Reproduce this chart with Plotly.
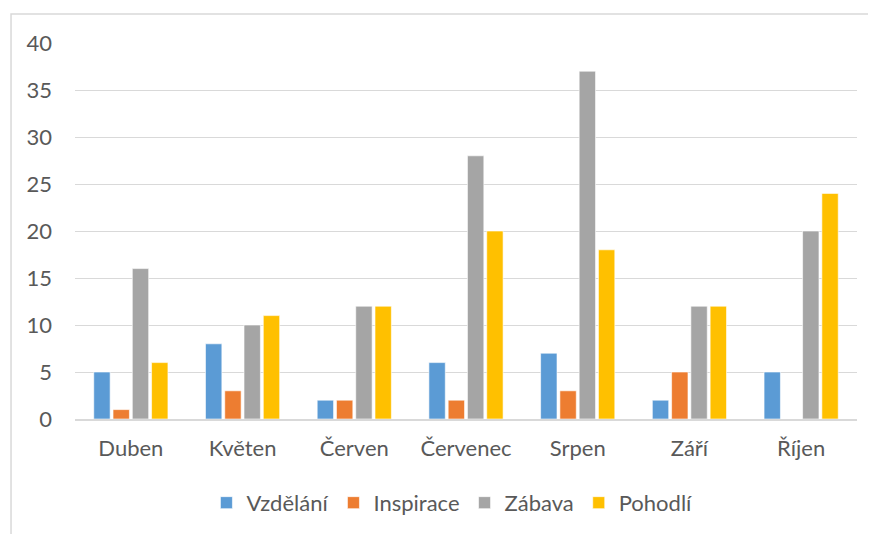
import plotly.graph_objects as go

months = ["Duben", "Květen", "Červen", "Červenec", "Srpen", "Září", "Říjen"]
series_names = ["Vzdělání", "Inspirace", "Zábava", "Pohodlí"]
vzdelani = [5, 8, 2, 6, 7, 2, 5]
inspirace = [1, 3, 2, 2, 3, 5, 0]
zabava = [16, 10, 12, 28, 37, 12, 20]
pohodli = [6, 11, 12, 20, 18, 12, 24]
colors = ["#5B9BD5", "#ED7D31", "#A5A5A5", "#FFC000"]
y_ticks = [0, 5, 10, 15, 20, 25, 30, 35, 40]

fig = go.Figure()
for name, vals, col in zip(series_names, [vzdelani, inspirace, zabava, pohodli], colors):
    fig.add_trace(go.Bar(x=months, y=vals, name=name,
                         marker=dict(color=col, line=dict(color="rgba(255,255,255,0.6)", width=1))))

font_family = "Lato, Open Sans, sans-serif"
txt = "#595959"
fig.update_layout(
    width=876, height=534,
    margin=dict(l=67, r=27, t=35, b=123),
    paper_bgcolor="white", plot_bgcolor="white",
    barmode="group", bargap=0.31, bargroupgap=0.15,
    font=dict(family=font_family, size=22, color=txt),
    showlegend=True,
    legend=dict(orientation="h", x=0.482, xanchor="center", y=-0.223, yanchor="middle",
                font=dict(size=22, color=txt), itemwidth=30, traceorder="normal"),
    xaxis=dict(showgrid=False, showline=True, linecolor="#D9D9D9", linewidth=1.5,
               ticks="", ticklabelstandoff=9, tickfont=dict(size=22, color=txt)),
    yaxis=dict(range=[0, 40], tickvals=y_ticks, showgrid=True, gridcolor="#D9D9D9", gridwidth=1,
               zeroline=False, showline=False, ticks="", ticklabelstandoff=22,
               tickfont=dict(size=22, color=txt)),
    shapes=[dict(type="rect", xref="paper", yref="paper",
                 x0=-0.0818, x1=1.05, y0=-0.4, y1=1.077,
                 line=dict(color="#D9D9D9", width=1.5), fillcolor="rgba(0,0,0,0)", layer="below")],
)

fig.write_html("out.html")
